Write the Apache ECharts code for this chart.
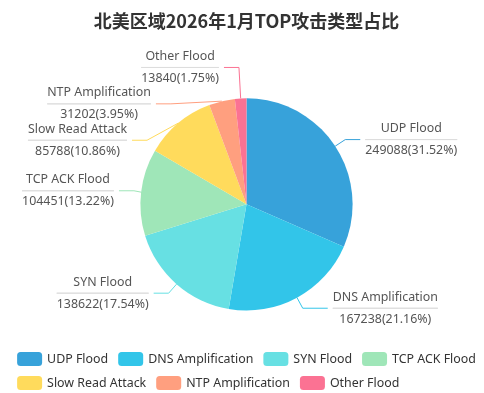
<!DOCTYPE html>
<html>
<head>
<meta charset="utf-8">
<script src="https://cdn.jsdelivr.net/npm/echarts@6/dist/echarts.min.js"></script>
<style>
html,body{margin:0;padding:0;background:#fff;overflow:hidden;width:484px;height:393px;}
#main{width:493px;height:393px;}
</style>
</head>
<body>
<div id="main"></div>
<script>
const titleText = '北美区域2026年1月TOP攻击类型占比';
const categories = ['UDP Flood', 'DNS Amplification', 'SYN Flood', 'TCP ACK Flood', 'Slow Read Attack', 'NTP Amplification', 'Other Flood'];
const values = [249088, 167238, 138622, 104451, 85788, 31202, 13840];
const colors = ['#37a2da', '#32c5e9', '#67e0e3', '#9fe6b8', '#ffdb5c', '#ff9f7f', '#fb7293'];

// per-item label-line tweaks (style only)
const lineTweaks = {
  'DNS Amplification': {length: 12, length2: 25},
  'Other Flood': {length: 31, length2: 15}
};

const FONT = "'Noto Sans', 'Noto Sans CJK SC', sans-serif";
const FS = 12.4;
const chart = echarts.init(document.getElementById('main'), null, {renderer: 'canvas'});
const option = {
  backgroundColor: '#fff',
  color: colors,
  title: {
    text: titleText,
    left: 'center',
    top: 7,
    textStyle: {fontSize: 18, fontWeight: 'bold', color: '#333', fontFamily: "'Noto Sans CJK SC', sans-serif"}
  },
  legend: {
    bottom: -2,
    left: 'center',
    itemWidth: 25,
    itemHeight: 14,
    itemGap: 10,
    textStyle: {fontSize: FS, color: '#333', fontFamily: FONT},
    data: categories
  },
  series: [{
    type: 'pie',
    radius: '54%',
    center: ['50%', '52%'],
    startAngle: 90,
    data: categories.map((n, i) => {
      const d = {name: n, value: values[i]};
      if (lineTweaks[n]) d.labelLine = lineTweaks[n];
      return d;
    }),
    label: {
      formatter: '{b|{b}}\n{hr|}\n{c|{c}({d}%)}',
      color: '#555',
      fontFamily: FONT,
      fontSize: FS,
      rich: {
        b: {fontSize: FS, lineHeight: 22, align: 'center', color: '#555', fontFamily: FONT},
        hr: {borderColor: '#ddd', width: '100%', borderWidth: 1, height: 0},
        c: {fontSize: FS, lineHeight: 22, align: 'center', color: '#555', fontFamily: FONT}
      }
    },
    labelLine: {length: 12, length2: 15}
  }]
};
chart.setOption(option);
</script>
</body>
</html>
